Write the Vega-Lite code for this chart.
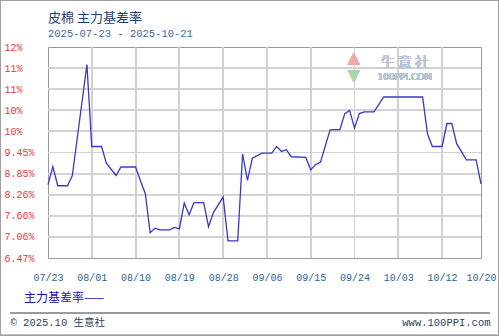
{
  "$schema": "https://vega.github.io/schema/vega-lite/v6.json",
  "width": 433,
  "height": 211,
  "autosize": {"type": "none"},
  "padding": {"left": 48, "top": 47, "right": 18, "bottom": 78},
  "background": "white",
  "title": {
    "text": "皮棉 主力基差率",
    "subtitle": "2025-07-23 - 2025-10-21",
    "anchor": "start",
    "frame": "group",
    "font": "Noto Sans CJK SC",
    "fontSize": 13,
    "fontWeight": "normal",
    "color": "#1d3f6e",
    "subtitleFont": "Liberation Mono",
    "subtitleFontSize": 10.5,
    "subtitleColor": "#3a6a9a",
    "subtitlePadding": 4,
    "offset": -39
  },
  "config": {
    "view": {"stroke": "#9a9a9a", "strokeWidth": 1},
    "axis": {
      "labelOverlap": false,
      "labelFlush": false,
      "labelBound": false,
      "ticks": false,
      "domain": false,
      "labelFont": "Liberation Mono",
      "labelFontSize": 10,
      "titleFontWeight": "normal"
    },
    "rule": {"color": "#d2d2d2", "strokeWidth": 1}
  },
  "resolve": {"axis": {"x": "independent", "y": "independent"}},
  "data": {
    "values": [
      {"date": "2025-07-23", "value": 8.54, "series": "主力基差率"},
      {"date": "2025-07-24", "value": 9.05, "series": "主力基差率"},
      {"date": "2025-07-25", "value": 8.51, "series": "主力基差率"},
      {"date": "2025-07-27", "value": 8.51, "series": "主力基差率"},
      {"date": "2025-07-28", "value": 8.80, "series": "主力基差率"},
      {"date": "2025-07-31", "value": 11.94, "series": "主力基差率"},
      {"date": "2025-08-01", "value": 9.62, "series": "主力基差率"},
      {"date": "2025-08-03", "value": 9.62, "series": "主力基差率"},
      {"date": "2025-08-04", "value": 9.15, "series": "主力基差率"},
      {"date": "2025-08-06", "value": 8.80, "series": "主力基差率"},
      {"date": "2025-08-07", "value": 9.04, "series": "主力基差率"},
      {"date": "2025-08-10", "value": 9.04, "series": "主力基差率"},
      {"date": "2025-08-11", "value": 8.65, "series": "主力基差率"},
      {"date": "2025-08-12", "value": 8.29, "series": "主力基差率"},
      {"date": "2025-08-13", "value": 7.18, "series": "主力基差率"},
      {"date": "2025-08-14", "value": 7.31, "series": "主力基差率"},
      {"date": "2025-08-15", "value": 7.26, "series": "主力基差率"},
      {"date": "2025-08-17", "value": 7.26, "series": "主力基差率"},
      {"date": "2025-08-18", "value": 7.33, "series": "主力基差率"},
      {"date": "2025-08-19", "value": 7.29, "series": "主力基差率"},
      {"date": "2025-08-20", "value": 8.02, "series": "主力基差率"},
      {"date": "2025-08-21", "value": 7.69, "series": "主力基差率"},
      {"date": "2025-08-22", "value": 8.03, "series": "主力基差率"},
      {"date": "2025-08-24", "value": 8.03, "series": "主力基差率"},
      {"date": "2025-08-25", "value": 7.35, "series": "主力基差率"},
      {"date": "2025-08-26", "value": 7.75, "series": "主力基差率"},
      {"date": "2025-08-28", "value": 8.19, "series": "主力基差率"},
      {"date": "2025-08-29", "value": 6.95, "series": "主力基差率"},
      {"date": "2025-08-31", "value": 6.95, "series": "主力基差率"},
      {"date": "2025-09-01", "value": 9.41, "series": "主力基差率"},
      {"date": "2025-09-02", "value": 8.66, "series": "主力基差率"},
      {"date": "2025-09-03", "value": 9.29, "series": "主力基差率"},
      {"date": "2025-09-05", "value": 9.43, "series": "主力基差率"},
      {"date": "2025-09-07", "value": 9.43, "series": "主力基差率"},
      {"date": "2025-09-08", "value": 9.62, "series": "主力基差率"},
      {"date": "2025-09-09", "value": 9.48, "series": "主力基差率"},
      {"date": "2025-09-10", "value": 9.53, "series": "主力基差率"},
      {"date": "2025-09-11", "value": 9.33, "series": "主力基差率"},
      {"date": "2025-09-14", "value": 9.31, "series": "主力基差率"},
      {"date": "2025-09-15", "value": 8.96, "series": "主力基差率"},
      {"date": "2025-09-16", "value": 9.11, "series": "主力基差率"},
      {"date": "2025-09-17", "value": 9.17, "series": "主力基差率"},
      {"date": "2025-09-18", "value": 9.64, "series": "主力基差率"},
      {"date": "2025-09-19", "value": 10.09, "series": "主力基差率"},
      {"date": "2025-09-21", "value": 10.10, "series": "主力基差率"},
      {"date": "2025-09-22", "value": 10.55, "series": "主力基差率"},
      {"date": "2025-09-23", "value": 10.64, "series": "主力基差率"},
      {"date": "2025-09-24", "value": 10.14, "series": "主力基差率"},
      {"date": "2025-09-25", "value": 10.55, "series": "主力基差率"},
      {"date": "2025-09-26", "value": 10.60, "series": "主力基差率"},
      {"date": "2025-09-28", "value": 10.60, "series": "主力基差率"},
      {"date": "2025-09-30", "value": 11.02, "series": "主力基差率"},
      {"date": "2025-10-08", "value": 11.02, "series": "主力基差率"},
      {"date": "2025-10-09", "value": 9.98, "series": "主力基差率"},
      {"date": "2025-10-10", "value": 9.62, "series": "主力基差率"},
      {"date": "2025-10-12", "value": 9.62, "series": "主力基差率"},
      {"date": "2025-10-13", "value": 10.27, "series": "主力基差率"},
      {"date": "2025-10-14", "value": 10.27, "series": "主力基差率"},
      {"date": "2025-10-15", "value": 9.70, "series": "主力基差率"},
      {"date": "2025-10-17", "value": 9.24, "series": "主力基差率"},
      {"date": "2025-10-19", "value": 9.24, "series": "主力基差率"},
      {"date": "2025-10-20", "value": 8.56, "series": "主力基差率"}
    ]
  },
  "layer": [
    {"mark": "rule", "encoding": {"y": {"datum": 7.0628, "type": "quantitative", "axis": null}}},
    {"mark": "rule", "encoding": {"y": {"datum": 7.6596, "type": "quantitative", "axis": null}}},
    {"mark": "rule", "encoding": {"y": {"datum": 8.2564, "type": "quantitative", "axis": null}}},
    {"mark": "rule", "encoding": {"y": {"datum": 8.8532, "type": "quantitative", "axis": null}}},
    {"mark": "rule", "encoding": {"y": {"datum": 9.45, "type": "quantitative", "axis": null}}},
    {"mark": "rule", "encoding": {"y": {"datum": 10.0468, "type": "quantitative", "axis": null}}},
    {"mark": "rule", "encoding": {"y": {"datum": 10.6436, "type": "quantitative", "axis": null}}},
    {"mark": "rule", "encoding": {"y": {"datum": 11.2404, "type": "quantitative", "axis": null}}},
    {"mark": "rule", "encoding": {"y": {"datum": 11.8372, "type": "quantitative", "axis": null}}},
    {"mark": "rule", "encoding": {"x": {"datum": {"year": 2025, "month": 8, "date": 1, "utc": true}, "type": "temporal", "axis": null}}},
    {"mark": "rule", "encoding": {"x": {"datum": {"year": 2025, "month": 8, "date": 10, "utc": true}, "type": "temporal", "axis": null}}},
    {"mark": "rule", "encoding": {"x": {"datum": {"year": 2025, "month": 8, "date": 19, "utc": true}, "type": "temporal", "axis": null}}},
    {"mark": "rule", "encoding": {"x": {"datum": {"year": 2025, "month": 8, "date": 28, "utc": true}, "type": "temporal", "axis": null}}},
    {"mark": "rule", "encoding": {"x": {"datum": {"year": 2025, "month": 9, "date": 6, "utc": true}, "type": "temporal", "axis": null}}},
    {"mark": "rule", "encoding": {"x": {"datum": {"year": 2025, "month": 9, "date": 15, "utc": true}, "type": "temporal", "axis": null}}},
    {"mark": "rule", "encoding": {"x": {"datum": {"year": 2025, "month": 9, "date": 24, "utc": true}, "type": "temporal", "axis": null}}},
    {"mark": "rule", "encoding": {"x": {"datum": {"year": 2025, "month": 10, "date": 3, "utc": true}, "type": "temporal", "axis": null}}},
    {"mark": "rule", "encoding": {"x": {"datum": {"year": 2025, "month": 10, "date": 12, "utc": true}, "type": "temporal", "axis": null}}},
    {
      "mark": {"type": "text", "text": "生  意  社", "font": "Noto Sans CJK SC", "fontSize": 14, "color": "#b4c6d8", "align": "center", "baseline": "middle", "clip": false},
      "encoding": {
        "x": {"datum": {"year": 2025, "month": 10, "date": 4, "hours": 8, "utc": true}, "type": "temporal", "axis": null},
        "y": {"datum": 11.98, "type": "quantitative", "axis": null}
      }
    },
    {
      "mark": {"type": "text", "text": "100PPI.COM", "font": "DejaVu Sans", "fontSize": 9, "color": "#b8c4d0", "align": "center", "baseline": "middle", "clip": false},
      "encoding": {
        "x": {"datum": {"year": 2025, "month": 10, "date": 4, "hours": 8, "utc": true}, "type": "temporal", "axis": null},
        "y": {"datum": 11.58, "type": "quantitative", "axis": null}
      }
    },
    {
      "mark": {"type": "text", "text": "▲", "font": "DejaVu Sans", "fontSize": 15, "color": "#f2a8a8", "align": "center", "baseline": "middle", "clip": false},
      "encoding": {
        "x": {"datum": {"year": 2025, "month": 9, "date": 23, "hours": 20, "utc": true}, "type": "temporal", "axis": null},
        "y": {"datum": 12.12, "type": "quantitative", "axis": null}
      }
    },
    {
      "mark": {"type": "text", "text": "▼", "font": "DejaVu Sans", "fontSize": 15, "color": "#a8d8a8", "align": "center", "baseline": "middle", "clip": false},
      "encoding": {
        "x": {"datum": {"year": 2025, "month": 9, "date": 23, "hours": 20, "utc": true}, "type": "temporal", "axis": null},
        "y": {"datum": 11.64, "type": "quantitative", "axis": null}
      }
    },
    {
      "mark": {"type": "rule", "color": "#9a9a9a", "strokeWidth": 1, "clip": false},
      "encoding": {
        "x": {"datum": {"year": 2025, "month": 7, "date": 15, "hours": 4, "minutes": 33, "utc": true}, "type": "temporal", "axis": null},
        "x2": {"datum": {"year": 2025, "month": 10, "date": 21, "hours": 20, "minutes": 24, "utc": true}},
        "y": {"datum": 4.91, "type": "quantitative", "axis": null}
      }
    },
    {
      "mark": {"type": "rect", "filled": false, "stroke": "#a0a0a0", "strokeWidth": 1, "clip": false},
      "encoding": {
        "x": {"datum": {"year": 2025, "month": 7, "date": 13, "hours": 5, "minutes": 41, "utc": true}, "type": "temporal", "axis": null},
        "x2": {"datum": {"year": 2025, "month": 10, "date": 23, "hours": 14, "minutes": 20, "utc": true}},
        "y": {"datum": 13.749, "type": "quantitative", "axis": null},
        "y2": {"datum": 4.274}
      }
    },
    {
      "mark": {"type": "line", "strokeWidth": 1.3},
      "encoding": {
        "x": {
          "field": "date",
          "type": "temporal",
          "scale": {"type": "utc", "domain": [{"year": 2025, "month": 7, "date": 23, "utc": true}, {"year": 2025, "month": 10, "date": 20, "utc": true}]},
          "axis": {
            "values": [
              {"year": 2025, "month": 7, "date": 23, "utc": true},
              {"year": 2025, "month": 8, "date": 1, "utc": true},
              {"year": 2025, "month": 8, "date": 10, "utc": true},
              {"year": 2025, "month": 8, "date": 19, "utc": true},
              {"year": 2025, "month": 8, "date": 28, "utc": true},
              {"year": 2025, "month": 9, "date": 6, "utc": true},
              {"year": 2025, "month": 9, "date": 15, "utc": true},
              {"year": 2025, "month": 9, "date": 24, "utc": true},
              {"year": 2025, "month": 10, "date": 3, "utc": true},
              {"year": 2025, "month": 10, "date": 12, "utc": true},
              {"year": 2025, "month": 10, "date": 20, "utc": true}
            ],
            "labelExpr": "utcFormat(datum.value, '%m/%d')",
            "labelColor": "#2f6496",
            "labelPadding": 14,
            "labelOverlap": false,
            "grid": false,
            "title": "© 2025.10 生意社",
            "titleX": -38,
            "titleY": 64.7,
            "titleAlign": "left",
            "titleBaseline": "middle",
            "titleFont": "Liberation Mono, Noto Sans CJK SC",
            "titleFontSize": 10.5,
            "titleColor": "#2a3f5a"
          }
        },
        "y": {
          "field": "value",
          "type": "quantitative",
          "scale": {"domain": [6.466, 12.434], "zero": false, "nice": false},
          "axis": {
            "values": [6.466, 7.0628, 7.6596, 8.2564, 8.8532, 9.45, 10.0468, 10.6436, 11.2404, 11.8372, 12.434],
            "labelExpr": "datum.value >= 10 ? floor(datum.value) + '%' : format(datum.value, '.2f') + '%'",
            "labelAlign": "left",
            "labelBaseline": "middle",
            "labelPadding": 44,
            "labelColor": "#e5363e",
            "labelOverlap": false,
            "grid": false,
            "title": "www.100PPI.com",
            "titleAngle": 0,
            "titleX": 442,
            "titleY": 275.7,
            "titleAlign": "right",
            "titleBaseline": "middle",
            "titleFont": "Liberation Mono",
            "titleFontSize": 10.5,
            "titleColor": "#2a3f5a"
          }
        },
        "color": {
          "field": "series",
          "type": "nominal",
          "scale": {"range": ["#3838cc"]},
          "legend": {
            "orient": "none",
            "legendX": -36,
            "legendY": 245,
            "title": null,
            "labelExpr": "datum.label + '——'",
            "symbolSize": 0,
            "symbolStrokeWidth": 0,
            "symbolOpacity": 0,
            "labelOffset": 0,
            "labelFont": "Noto Sans CJK SC",
            "labelFontSize": 12,
            "labelColor": "#1414c0"
          }
        }
      }
    }
  ]
}
